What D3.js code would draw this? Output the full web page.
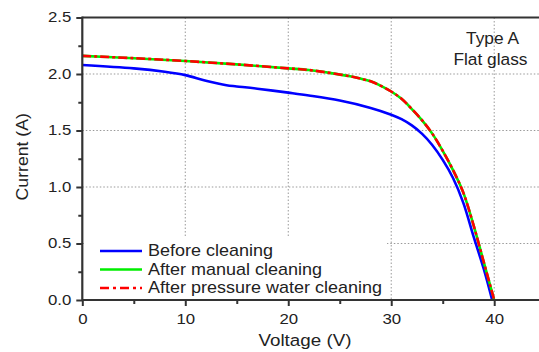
<!DOCTYPE html>
<html>
<head>
<meta charset="utf-8">
<script src="https://cdn.jsdelivr.net/npm/d3@7"></script>
<style>
  body { margin: 0; background: #fff; }
  svg text { font-family: "Liberation Sans", Arial, sans-serif; fill: #222; }
</style>
</head>
<body>
<div id="chart"></div>
<script>
var width = 539, height = 352
var margin = {top: 17.5, right: -6.7, bottom: 52, left: 82.3}

// I-V data
var voltsBefore = [0, 5, 8, 10, 12, 14, 15, 17, 20, 22, 25, 28, 30, 31, 32, 33, 34, 35, 36, 37, 38, 39, 39.8]
var currentBefore = [2.08, 2.05, 2.02, 1.99, 1.94, 1.90, 1.89, 1.87, 1.835, 1.81, 1.765, 1.70, 1.64, 1.60, 1.545, 1.47, 1.37, 1.24, 1.08, 0.86, 0.56, 0.27, 0.0]
var voltsAfter = [0, 5, 10, 15, 20, 22, 24, 26, 27, 28, 29, 30, 31, 32, 33, 34, 35, 36, 37, 38, 39, 40]
var currentManual = [2.16, 2.14, 2.115, 2.085, 2.05, 2.035, 2.01, 1.98, 1.96, 1.935, 1.895, 1.845, 1.78, 1.69, 1.59, 1.47, 1.32, 1.15, 0.95, 0.66, 0.33, 0.0]
var currentPressure = [2.16, 2.14, 2.115, 2.085, 2.05, 2.035, 2.01, 1.98, 1.96, 1.935, 1.895, 1.845, 1.78, 1.69, 1.59, 1.47, 1.32, 1.15, 0.95, 0.66, 0.33, 0.0]

var seriesNames = ['Before cleaning', 'After manual cleaning', 'After pressure water cleaning']
var seriesColors = ['#0000ff', '#00ee00', '#ff0000']
var xTicks = [0, 10, 20, 30, 40]
var yTicks = [0, 0.5, 1.0, 1.5, 2.0, 2.5]

var svg = d3.select("#chart")
  .append("svg")
  .attr("width", width)
  .attr("height", height)

// the picture's lettering is a little wider than Arial
function stretch(sel, s) {
  sel.each(function() {
    var t = d3.select(this)
    var x = +t.attr("x") || 0
    var prev = t.attr("transform") || ''
    t.attr("transform", `${prev} translate(${x},0) scale(${s},1) translate(${-x},0)`)
  })
}

var xScale = d3.scaleLinear()
  .domain([0, 45])
  .range([margin.left, width - margin.right])

var yScale = d3.scaleLinear()
  .domain([0, 2.5])
  .range([height - margin.bottom, margin.top])

// grid
var grid = svg.append("g").attr("class", "grid")
grid.selectAll("line.vx")
  .data(xTicks.slice(1))
  .enter()
  .append("line")
  .attr("x1", d => xScale(d)).attr("x2", d => xScale(d))
  .attr("y1", yScale(2.5)).attr("y2", yScale(0))
grid.selectAll("line.hy")
  .data(yTicks.slice(1, -1))
  .enter()
  .append("line")
  .attr("x1", xScale(0)).attr("x2", width)
  .attr("y1", d => yScale(d)).attr("y2", d => yScale(d))
grid.selectAll("line")
  .attr("stroke", "#999")
  .attr("stroke-width", 1)
  .attr("stroke-dasharray", "1.5,2")

// legend box hides the grid underneath
svg.append("rect")
  .attr("x", xScale(0) + 2)
  .attr("y", yScale(0.55))
  .attr("width", xScale(29.4) - xScale(0))
  .attr("height", yScale(0) - yScale(0.55) - 1)
  .attr("fill", "#fff")

var line = d3.line()
  .x(d => xScale(d[0]))
  .y(d => yScale(d[1]))
  .curve(d3.curveCatmullRom.alpha(0.5))

svg.append("path")
  .datum(d3.zip(voltsBefore, currentBefore))
  .attr("d", line)
  .attr("fill", "none")
  .attr("stroke", seriesColors[0])
  .attr("stroke-width", 2.6)

svg.append("path")
  .datum(d3.zip(voltsAfter, currentManual))
  .attr("d", line)
  .attr("fill", "none")
  .attr("stroke", seriesColors[1])
  .attr("stroke-width", 2.6)

svg.append("path")
  .datum(d3.zip(voltsAfter, currentPressure))
  .attr("d", line)
  .attr("fill", "none")
  .attr("stroke", seriesColors[2])
  .attr("stroke-width", 2.6)
  .attr("stroke-dasharray", "9,3,3,3")

// axes
var xAxis = d3.axisBottom(xScale).tickValues(xTicks).tickSize(6).tickPadding(8).tickFormat(d3.format("d"))
var xMinor = d3.axisBottom(xScale).tickValues([5, 15, 25, 35]).tickSize(4).tickFormat('')
var yAxis = d3.axisLeft(yScale).tickValues(yTicks).tickSize(6).tickPadding(5).tickFormat(d3.format(".1f"))
var yMinor = d3.axisLeft(yScale).tickValues([0.25, 0.75, 1.25, 1.75, 2.25]).tickSize(4).tickFormat('')

function styleAxis(g) {
  g.select(".domain").remove()
  g.selectAll(".tick line").attr("stroke", "#333").attr("stroke-width", 2)
  g.selectAll("text").attr("font-size", "14px").attr("fill", "#222").call(stretch, 1.2)
}

svg.append("g")
  .attr("transform", `translate(0,${yScale(0)})`)
  .call(xAxis).call(styleAxis)
svg.append("g")
  .attr("transform", `translate(0,${yScale(0)})`)
  .call(xMinor).call(styleAxis)
svg.append("g")
  .attr("transform", `translate(${xScale(0)},0)`)
  .call(yAxis).call(styleAxis)
svg.append("g")
  .attr("transform", `translate(${xScale(0)},0)`)
  .call(yMinor).call(styleAxis)

// frame lines
svg.append("line")
  .attr("x1", xScale(0)).attr("x2", width)
  .attr("y1", yScale(0)).attr("y2", yScale(0))
  .attr("stroke", "#333").attr("stroke-width", 2.2)
svg.append("line")
  .attr("x1", xScale(0)).attr("x2", width)
  .attr("y1", yScale(2.5)).attr("y2", yScale(2.5))
  .attr("stroke", "#333").attr("stroke-width", 2.2)
svg.append("line")
  .attr("x1", xScale(0)).attr("x2", xScale(0))
  .attr("y1", yScale(2.5) - 1).attr("y2", yScale(0) + 1)
  .attr("stroke", "#333").attr("stroke-width", 2.2)

// axis titles
svg.append("text")
  .attr("x", 305)
  .attr("y", 346)
  .attr("text-anchor", "middle")
  .attr("font-size", "16.5px")
  .text("Voltage (V)")
  .call(stretch, 1.14)
svg.append("text")
  .attr("transform", `translate(27.5,${(yScale(0) + yScale(2.5)) / 2 - 2}) rotate(-90)`)
  .attr("text-anchor", "middle")
  .attr("font-size", "16.5px")
  .text("Current (A)")
  .call(stretch, 1.07)

// annotation
svg.append("text")
  .attr("x", 492.5).attr("y", 44)
  .attr("text-anchor", "middle")
  .attr("font-size", "16.5px")
  .text("Type A")
  .call(stretch, 1.05)
svg.append("text")
  .attr("x", 490.5).attr("y", 65)
  .attr("text-anchor", "middle")
  .attr("font-size", "16.5px")
  .text("Flat glass")
  .call(stretch, 1.05)

// legend
var legend = svg.append("g")
  .attr("class", "legend")
legend.selectAll("line")
  .data(seriesNames)
  .enter()
  .append("line")
  .attr("x1", 100).attr("x2", 142)
  .attr("y1", (d, i) => 251 + i * 18.5)
  .attr("y2", (d, i) => 251 + i * 18.5)
  .attr("stroke", (d, i) => seriesColors[i])
  .attr("stroke-width", 2.6)
  .attr("stroke-dasharray", (d, i) => i === 2 ? "9,4,3,4" : null)
legend.selectAll("text")
  .data(seriesNames)
  .enter()
  .append("text")
  .attr("x", 148)
  .attr("y", (d, i) => 256.5 + i * 18.5)
  .attr("font-size", "16px")
  .text(d => d)
  .call(stretch, 1.125)
</script>
</body>
</html>
